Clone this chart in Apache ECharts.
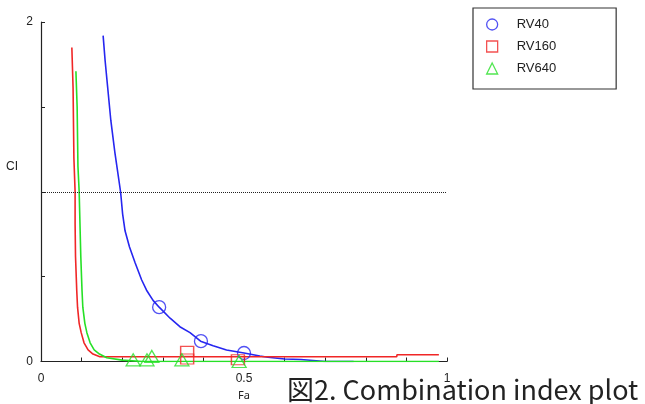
<!DOCTYPE html>
<html>
<head>
<meta charset="utf-8">
<title>Combination index plot</title>
<script src="https://cdn.jsdelivr.net/npm/echarts@6/dist/echarts.min.js"></script>
<style>
  html, body { margin: 0; padding: 0; background: #fff; }
  #chart { width: 645px; height: 404px; }
</style>
</head>
<body>
<div id="chart"></div>
<script>
  // fitted CI curves, [Fa, CI]
  var rv40Curve = [[0.153, 1.92], [0.158, 1.77], [0.164, 1.62], [0.172, 1.42], [0.182, 1.23],
    [0.196, 1.0], [0.201, 0.87], [0.207, 0.77], [0.218, 0.675], [0.232, 0.58], [0.248, 0.48],
    [0.26, 0.42], [0.276, 0.36], [0.291, 0.32], [0.318, 0.255], [0.342, 0.205], [0.367, 0.17],
    [0.393, 0.12], [0.424, 0.093], [0.457, 0.068], [0.5, 0.05], [0.539, 0.032], [0.559, 0.025],
    [0.6, 0.015], [0.64, 0.012], [0.7, 0.0], [0.77, 0.0]];
  var rv160Curve = [[0.076, 1.85], [0.079, 1.61], [0.081, 1.2], [0.084, 1.0], [0.084, 0.81],
    [0.085, 0.62], [0.088, 0.42], [0.09, 0.32], [0.094, 0.225], [0.099, 0.17], [0.106, 0.11],
    [0.116, 0.068], [0.128, 0.044], [0.145, 0.028], [0.6, 0.028], [0.876, 0.028],
    [0.877, 0.04], [0.98, 0.04]];
  var rv640Curve = [[0.086, 1.71], [0.089, 1.5], [0.091, 1.15], [0.094, 1.0], [0.096, 0.81],
    [0.098, 0.62], [0.101, 0.42], [0.103, 0.32], [0.108, 0.225], [0.113, 0.17], [0.121, 0.11],
    [0.131, 0.068], [0.144, 0.044], [0.162, 0.022], [0.2, 0.008], [0.25, 0.0], [0.98, 0.0]];

  // measured points
  var rv40Points = [[0.291, 0.32], [0.394, 0.12], [0.5, 0.05]];
  var rv160Points = [[0.36, 0.06], [0.36, 0.015], [0.485, 0.01]];
  var rv640Points = [[0.227, 0.01], [0.261, 0.01], [0.273, 0.03], [0.347, 0.01], [0.488, 0.0]];

  var seriesNames = ['RV40', 'RV160', 'RV640'];
  var xTickLabels = [0, 0.5, 1];
  var yTickLabels = [0, 2];
  var ciLine = 1;

  var blue = '#2626f0', red = '#f02626', green = '#26e026';

  function onlyAt(list) {
    return function (v) {
      for (var i = 0; i < list.length; i++) {
        if (Math.abs(list[i] - v) < 1e-9) return String(list[i]);
      }
      return '';
    };
  }

  function curve(name, data, color, extra) {
    var s = {
      name: name, type: 'line', data: data, showSymbol: false, symbol: 'none',
      silent: true, lineStyle: { color: color, width: 1.6 }, z: 2
    };
    for (var k in extra) s[k] = extra[k];
    return s;
  }

  function points(name, data, symbol, size, color) {
    return {
      name: name, type: 'scatter', data: data, symbol: symbol, symbolSize: size,
      itemStyle: { color: 'rgba(0,0,0,0)', borderColor: color, borderWidth: 1.3 }, z: 3
    };
  }

  function legendItem(name, icon, color) {
    return { name: name, icon: icon, itemStyle: { color: 'rgba(0,0,0,0)', borderColor: color, borderWidth: 1.3 } };
  }

  var chart = echarts.init(document.getElementById('chart'));
  chart.setOption({
    animation: false,
    grid: { left: 41, right: 198, top: 22, bottom: 42.5, outerBoundsMode: 'none' },
    xAxis: {
      type: 'value', min: 0, max: 1, interval: 0.1,
      name: 'Fa', nameLocation: 'middle', nameGap: 29,
      nameTextStyle: { color: '#222', fontSize: 11, fontFamily: 'Noto Sans' },
      axisLine: { lineStyle: { color: '#222', width: 1.2 } },
      axisTick: { inside: true, length: 4, lineStyle: { color: '#222' } },
      axisLabel: { color: '#222', fontSize: 12, margin: 11, fontFamily: 'Liberation Sans', formatter: onlyAt(xTickLabels) },
      splitLine: { show: false }
    },
    yAxis: {
      type: 'value', min: 0, max: 2, interval: 0.5,
      axisLine: { show: true, lineStyle: { color: '#222', width: 1.2 } },
      axisTick: { show: true, inside: true, length: 4, lineStyle: { color: '#222' } },
      axisLabel: { color: '#222', fontSize: 12, margin: 8, fontFamily: 'Liberation Sans', formatter: onlyAt(yTickLabels) },
      splitLine: { show: false }
    },
    legend: {
      orient: 'vertical', left: 473, top: 8,
      padding: [10, 60, 14, 13],
      itemWidth: 11, itemHeight: 11, itemGap: 9,
      borderColor: '#333', borderWidth: 1.2,
      textStyle: { color: '#222', fontSize: 13, fontFamily: 'Liberation Sans', padding: [0, 0, 0, 14] },
      selectedMode: false,
      data: [
        legendItem(seriesNames[0], 'circle', blue),
        legendItem(seriesNames[1], 'rect', red),
        legendItem(seriesNames[2], 'triangle', green)
      ]
    },
    graphic: [
      { type: 'text', left: 6, top: 161, style: { text: 'CI', fill: '#222', font: '12px "Liberation Sans"' } },
      { type: 'text', x: 287, y: 390, style: { text: '図2. Combination index plot', fill: '#222',
        font: '27px "Noto Sans CJK JP"', textVerticalAlign: 'middle' } }
    ],
    series: [
      curve('RV40 fit', rv40Curve, blue, {
        markLine: {
          silent: true, symbol: 'none', label: { show: false },
          lineStyle: { type: [1, 1], color: '#222', width: 1 },
          data: [{ yAxis: ciLine }]
        }
      }),
      curve('RV160 fit', rv160Curve, red, {}),
      curve('RV640 fit', rv640Curve, green, {}),
      points(seriesNames[0], rv40Points, 'circle', 13, blue),
      points(seriesNames[1], rv160Points, 'rect', [13, 10], red),
      points(seriesNames[2], rv640Points, 'triangle', [14, 12], green)
    ]
  });
</script>
</body>
</html>
